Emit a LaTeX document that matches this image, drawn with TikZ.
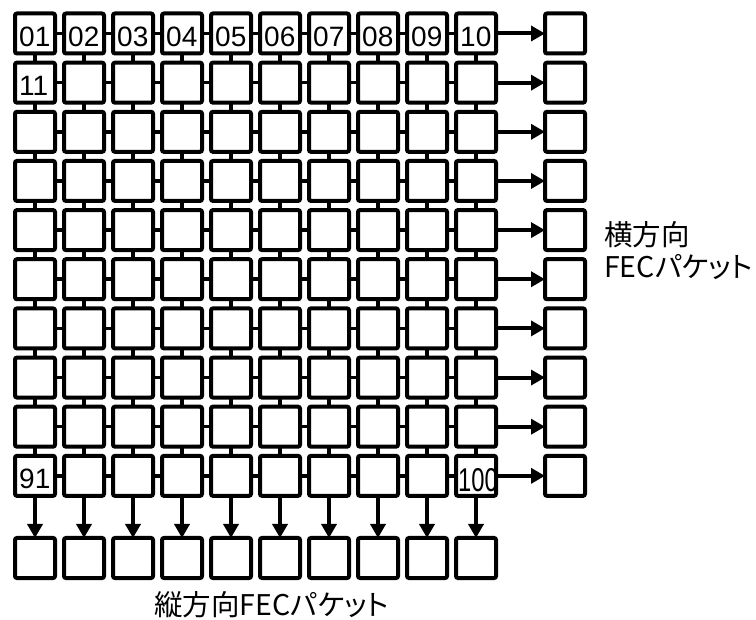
\documentclass[tikz,border=0pt]{standalone}
\usepackage{fontspec}
\setmainfont{Liberation Sans}
\newfontfamily\jp[RawFeature=+palt]{Noto Sans CJK JP}
\usetikzlibrary{arrows.meta}
\begin{document}
\begin{tikzpicture}[x=1pt,y=-1pt,
  cell/.style={draw,line width=4pt,rounded corners=2pt,minimum size=40pt,inner sep=0pt,outer sep=0pt},
  link/.style={line width=3.5pt},
  arr/.style={line width=4pt,-{Triangle[length=14pt,width=15pt]}},
  num/.style={inner sep=0pt,anchor=west,font=\fontsize{28}{30}\selectfont},
  lab/.style={font=\jp\fontsize{28.5}{32}\selectfont,inner sep=0pt}]
\useasboundingbox (0,0) rectangle (756,620);
\foreach \r in {0,...,9}{
  \foreach \c in {0,...,9}{
    \node[cell] (b\r-\c) at ({35+49*\c},{33.5+49.15*\r}) {};
  }
  \node[cell] (h\r) at (565,{33.5+49.15*\r}) {};
}
\foreach \c in {0,...,9}{
  \node[cell] (v\c) at ({35+49*\c},558) {};
}
% horizontal links
\foreach \r in {0,...,9}{
  \foreach \c [evaluate=\c as \n using int(\c+1)] in {0,...,8}{
    \draw[link] (b\r-\c.east) -- (b\r-\n.west);
  }
  \draw[arr] (b\r-9.east) -- (h\r.west);
}
% vertical links
\foreach \c in {0,...,9}{
  \foreach \r [evaluate=\r as \n using int(\r+1)] in {0,...,8}{
    \draw[link] (b\r-\c.south) -- (b\n-\c.north);
  }
  \draw[arr] (b9-\c.south) -- (v\c.north);
}
% numbers
\node[num] (t01) at ([shift={(4,3)}]b0-0.west) {01};
\node[num] (t02) at ([shift={(4,3)}]b0-1.west) {02};
\node[num] (t03) at ([shift={(4,3)}]b0-2.west) {03};
\node[num] (t04) at ([shift={(4,3)}]b0-3.west) {04};
\node[num] (t05) at ([shift={(4,3)}]b0-4.west) {05};
\node[num] (t06) at ([shift={(4,3)}]b0-5.west) {06};
\node[num] (t07) at ([shift={(4,3)}]b0-6.west) {07};
\node[num] (t08) at ([shift={(4,3)}]b0-7.west) {08};
\node[num] (t09) at ([shift={(4,3)}]b0-8.west) {09};
\node[num] (t10) at ([shift={(4,3)}]b0-9.west) {10};
\node[num] (t11) at ([shift={(4,3)}]b1-0.west) {11};
\node[num] (t91) at ([shift={(4,3)}]b9-0.west) {91};
\node[num,font=\fontsize{33}{34}\selectfont,xscale=0.72] (t100) at ([shift={(2,4)}]b9-9.west) {100};
% labels
\node[lab,anchor=north west,align=left] (hl) at (604,221) {横方向\\FECパケット};
\node[lab] (vl) at (271.5,605) {縦方向FECパケット};
\end{tikzpicture}
\end{document}
